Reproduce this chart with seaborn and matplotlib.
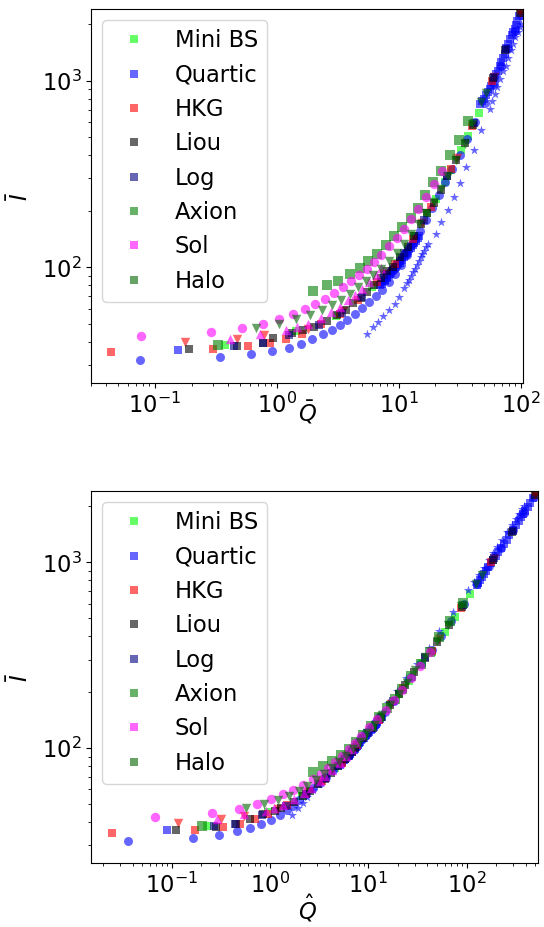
import matplotlib
matplotlib.use("Agg")
import matplotlib.pyplot as plt
from matplotlib.lines import Line2D
import seaborn as sns

plt.rcParams["font.size"] = 16.3

# ---- model names and colours (legend order) ----
models = ["Mini BS", "Quartic", "HKG", "Liou", "Log", "Axion", "Sol", "Halo"]
colors = ["lime", "blue", "red", "black", "navy", "green", "magenta", "darkgreen"]

# ---- Mini BS (squares) ----
minibs_qbar = [0.375, 1.45, 3.05, 6.0, 9.6, 13.5, 17.0, 20.3, 23.8, 27.0, 32.6, 36.9, 45.5]
minibs_qhat = [0.23, 0.95, 2.1, 4.6, 8.0, 13.8, 20.5, 26.0, 35.5, 44.0, 60.5, 76.0, 108]
minibs_i = [38.2, 45.5, 55.0, 78.0, 106, 148, 195, 231, 286, 331, 424, 505, 672]

# ---- Quartic (circles, stars, squares) ----
quartic_c_qbar = [0.075, 0.34, 0.62, 0.92, 1.26, 1.59, 1.96, 2.40, 2.81, 3.28, 3.77, 4.36,
                  5.04, 5.70, 6.48, 7.35, 8.30, 9.40, 10.5, 11.7, 13.2, 14.8, 16.6, 18.7,
                  21.2, 24.0, 27.4, 31.5, 36.5, 42.5, 51.0, 60.0, 69.0, 79.0, 90.0, 100.0]
quartic_c_qhat = [0.036, 0.164, 0.305, 0.46, 0.63, 0.81, 1.02, 1.26, 1.5, 1.72, 1.98, 2.3,
                  2.75, 3.25, 3.75, 4.4, 5.3, 6.3, 7.6, 9.4, 11.9, 14.9, 18.3, 22.0,
                  27.0, 34.5, 44.0, 55.0, 70.0, 94.0, 129, 170, 225, 300, 380, 480]
quartic_c_i = [31.8, 33.0, 34.2, 35.6, 37.1, 39.0, 41.2, 43.8, 46.3, 48.9, 52.5, 56.5,
               60.9, 65.2, 69.9, 75.9, 83.4, 92.0, 103, 117, 135, 156, 180, 208,
               243, 285, 336, 400, 485, 600, 760, 960, 1200, 1500, 1850, 2250]

quartic_st_qbar = [5.44, 6.16, 6.77, 7.43, 8.33, 9.29, 10.06, 11.0, 11.6, 12.1, 12.6, 13.1,
                   13.6, 14.1, 14.6, 15.1, 15.6, 16.2, 16.8, 17.4, 20.1, 22.1, 25.1, 28.2,
                   31.6, 35.9, 41.7, 47.6, 55.6, 58.6, 61.2, 64.1, 67.2, 71.3, 75.0, 78.6,
                   82.5, 86.5, 90.5, 94.9, 98.0, 101.0]
quartic_st_qhat = [1.67, 1.94, 2.15, 2.4, 2.75, 3.1, 3.6, 4.5, 5.0, 5.6, 6.1, 6.6,
                   7.1, 7.6, 8.2, 8.8, 9.5, 10.1, 10.8, 11.6, 13.0, 16.0, 19.5, 24.0,
                   31.0, 41.0, 53.0, 72.0, 104, 120, 134, 150, 168, 187, 205, 230,
                   260, 287, 315, 342, 367, 387]
quartic_st_i = [43.9, 47.9, 50.9, 54.6, 59.3, 63.9, 69.3, 77.9, 82.0, 86.0, 90.0, 94.0,
                98.0, 103, 108, 113, 118, 123, 128, 133, 151, 174, 202, 238,
                283, 344, 426, 541, 706, 781, 850, 930, 1026, 1120, 1205, 1320,
                1452, 1580, 1710, 1830, 1938, 2020]

quartic_sq_qbar = [0.155,
                   7.0, 7.35, 7.7, 8.05, 8.4, 8.75, 9.1, 9.45, 9.8, 10.25, 10.7, 11.15,
                   11.6, 12.15, 12.7, 13.25, 13.9, 14.6,
                   7.3, 7.65, 8.0, 8.35, 8.7, 9.05, 9.4, 9.75, 10.15, 10.6, 11.05, 11.5,
                   12.0, 12.55, 13.1, 13.75, 14.45,
                   46.0, 47.9, 49.9, 51.8, 53.7, 55.5, 57.4, 59.3, 61.2, 63.1, 65.0, 67.2,
                   69.4, 71.5, 73.6, 76.1, 78.6, 81.3, 84.0, 86.5, 89.0, 91.0, 93.0, 96.0]
quartic_sq_qhat = [0.09,
                   4.9, 5.25, 5.65, 6.0, 6.4, 6.75, 7.1, 7.45, 7.8, 8.25, 8.7, 9.25,
                   9.8, 10.6, 11.3, 12.0, 12.8, 13.7,
                   5.1, 5.45, 5.8, 6.2, 6.55, 6.9, 7.25, 7.6, 8.0, 8.5, 9.0, 9.5,
                   10.2, 10.9, 11.6, 12.4, 13.2,
                   127, 132, 137, 144, 151, 159, 166, 176, 187, 198, 209, 224,
                   240, 255, 272, 295, 318, 338, 360, 378, 395, 420, 445, 470]
quartic_sq_i = [36.2,
                80.0, 83.0, 86.0, 89.0, 92.0, 95.0, 98.0, 101, 104, 108, 112, 116,
                120, 125, 130, 135, 141, 147,
                81.5, 84.5, 87.5, 90.5, 93.5, 96.5, 99.5, 102.5, 106, 110, 114, 118,
                122.5, 127.5, 132.5, 138, 144,
                752, 776, 800, 833, 866, 903, 940, 987, 1034, 1082, 1130, 1193,
                1256, 1325, 1395, 1487, 1580, 1665, 1750, 1825, 1900, 1995, 2090, 2220]

# ---- HKG (squares, down triangles) ----
hkg_sq_qbar = [0.0436, 0.30, 0.58, 0.88, 1.2, 1.6, 2.3, 3.3, 4.6, 6.6, 9.3, 13.0, 18.5,
               27.0, 40.0, 58.0, 100.0]
hkg_sq_qhat = [0.0245, 0.173, 0.335, 0.5, 0.7, 0.95, 1.5, 2.3, 3.4, 5.35, 7.75, 12.9, 22.5,
               44.5, 88.0, 178, 510]
hkg_sq_i = [35.1, 36.3, 37.8, 39.3, 41.5, 44.0, 49.5, 56.5, 66.5, 83.5, 104, 142, 210,
            335, 570, 1000, 2380]

hkg_tri_qbar = [0.177, 0.47, 0.79, 1.8, 3.5, 7.6, 15.5, 30.0, 60.0, 98.6]
hkg_tri_qhat = [0.117, 0.32, 0.55, 1.2, 2.45, 6.4, 17.0, 52.0, 188, 496]
hkg_tri_i = [39.7, 41.5, 43.2, 47.0, 58.0, 92.0, 172, 385, 1040, 2291]

# ---- Liou (squares) ----
liou_qbar = [0.19, 0.47, 0.77, 0.94, 1.33, 1.63, 2.01, 2.57, 3.10, 3.68, 4.20, 4.88, 5.47,
             6.24, 7.11, 7.97, 8.93, 10.3, 11.8, 13.4, 15.1, 17.0, 19.4, 22.1, 24.7, 29.3,
             34.7, 40.4, 58.9, 73.9, 98.1]
liou_qhat = [0.11, 0.28, 0.45, 0.63, 0.85, 1.12, 1.3, 1.75, 2.17, 2.55, 3.1, 3.6, 4.15,
             4.9, 5.85, 6.8, 7.4, 8.9, 11.1, 13.6, 16.8, 20.5, 23.8, 29.5, 38.0, 50.5,
             65.5, 89.0, 186, 288, 492]
liou_i = [36.4, 37.8, 39.2, 41.7, 44.3, 46.0, 47.7, 51.4, 55.3, 58.9, 64.2, 68.2, 73.4,
          80.1, 87.3, 95.2, 100, 113, 129, 147, 170, 195, 220, 258, 307, 374,
          461, 576, 1028, 1452, 2290]

# ---- Log (squares) ----
log_qbar = [0.447, 0.77, 1.25, 2.2, 3.4, 5.0, 7.5, 11.0, 16.0, 25.0, 41.0, 60.0, 75.0]
log_qhat = [0.27, 0.44, 0.82, 1.45, 2.35, 3.7, 6.3, 10.0, 18.0, 38.0, 92.0, 190, 295]
log_i = [37.9, 39.3, 43.6, 49.0, 57.0, 69.0, 91.0, 120, 180, 310, 590, 1050, 1480]

# ---- Axion (squares) ----
axion_qbar = [0.33, 1.97, 2.57, 3.2, 4.0, 4.8, 5.6, 6.6, 7.8, 9.1, 10.7, 12.5, 14.4,
              16.3, 19.1, 22.4, 26.1, 31.0, 37.0]
axion_qhat = [0.205, 2.72, 3.49, 4.3, 5.3, 6.3, 7.5, 8.9, 10.7, 13.0, 15.5, 18.8, 22.2,
              27.5, 34.0, 42.0, 53.0, 68.0, 92.0]
axion_i = [38.2, 74.4, 80.0, 85.0, 91.7, 98.8, 107.7, 118, 131, 147, 164, 184, 208,
           245, 285, 330, 398, 483, 606]

# ---- Sol (circles, up triangles) ----
sol_c_qbar = [0.077, 0.29, 0.52, 0.77, 1.04, 1.36, 1.70, 2.05, 2.47, 2.95, 3.5, 4.09,
              4.7, 5.44, 6.23, 7.2, 8.33, 9.6, 11.0, 12.5, 14.4, 16.6, 19.4, 22.5]
sol_c_qhat = [0.068, 0.26, 0.485, 0.73, 1.02, 1.35, 1.73, 2.15, 2.72, 3.3, 3.9, 4.6,
              5.4, 6.3, 7.3, 8.5, 10.2, 12.3, 15.0, 18.2, 22.0, 27.0, 33.5, 42.5]
sol_c_i = [42.8, 45.0, 47.2, 49.9, 53.0, 56.5, 59.5, 63.4, 68.0, 72.9, 78.4, 84.0,
           90.6, 98.4, 106.8, 116, 129.5, 144, 161, 182, 206, 238, 278, 328]

sol_tri_qbar = [0.41, 0.73, 1.2, 1.47, 1.8, 2.3, 2.8, 3.3, 3.8, 4.4, 4.95, 5.65, 6.45, 7.2]
sol_tri_qhat = [0.287, 0.55, 0.9, 1.1, 1.35, 1.75, 2.2, 2.6, 3.2, 3.65, 4.3, 5.1, 6.0, 6.9]
sol_tri_i = [41.5, 44.1, 46.1, 47.8, 49.6, 53.5, 57.5, 61.3, 66.8, 70.9, 76.3, 83.3, 90.8, 99.0]

# ---- Halo (down triangles) ----
halo_qbar = [0.68, 1.04, 1.43, 1.86, 2.33, 2.81, 3.39, 3.96, 4.64, 5.37, 6.16, 7.2, 8.33,
             9.6, 11.0, 12.7, 14.6, 16.8, 19.3, 22.1, 25.3, 29.4, 34.8, 40.1, 47.6, 51.5]
halo_qhat = [0.57, 0.87, 1.2, 1.55, 1.95, 2.4, 2.95, 3.55, 4.3, 5.0, 5.9, 7.0, 8.2,
             9.7, 11.6, 13.8, 16.6, 20.3, 24.5, 30.0, 38.0, 50.0, 64.0, 88.0, 126, 145]
halo_i = [47.6, 49.9, 52.6, 55.3, 58.8, 62.6, 67.2, 72.3, 78.4, 84.0, 90.6, 98.4, 108,
          120, 134, 150, 170, 195, 225, 262, 310, 378, 459, 583, 767, 855]

# drawing order: (qbar, qhat, I, colour, marker, size)
series = [
    (minibs_qbar, minibs_qhat, minibs_i, "lime", "s", 40),
    (quartic_c_qbar, quartic_c_qhat, quartic_c_i, "blue", "o", 42),
    (quartic_st_qbar, quartic_st_qhat, quartic_st_i, "blue", "*", 48),
    (quartic_sq_qbar, quartic_sq_qhat, quartic_sq_i, "blue", "s", 40),
    (hkg_sq_qbar, hkg_sq_qhat, hkg_sq_i, "red", "s", 40),
    (hkg_tri_qbar, hkg_tri_qhat, hkg_tri_i, "red", "v", 46),
    (liou_qbar, liou_qhat, liou_i, "black", "s", 40),
    (log_qbar, log_qhat, log_i, "navy", "s", 40),
    (axion_qbar, axion_qhat, axion_i, "green", "s", 46),
    (sol_c_qbar, sol_c_qhat, sol_c_i, "magenta", "o", 46),
    (sol_tri_qbar, sol_tri_qhat, sol_tri_i, "magenta", "^", 46),
    (halo_qbar, halo_qhat, halo_i, "darkgreen", "v", 46),
]

fig = plt.figure(figsize=(5.44, 9.27), dpi=100)
ax_top = fig.add_axes([0.1673, 0.5868, 0.7947, 0.4035])
ax_bot = fig.add_axes([0.1673, 0.0687, 0.8211, 0.4016])

for qbar, qhat, ival, col, mk, sz in series:
    sns.scatterplot(x=qbar, y=ival, color=col, marker=mk, s=sz, alpha=0.6,
                    linewidth=0, ax=ax_top)
    sns.scatterplot(x=qhat, y=ival, color=col, marker=mk, s=sz, alpha=0.6,
                    linewidth=0, ax=ax_bot)

handles = [Line2D([], [], marker="s", linestyle="", color=c, alpha=0.6,
                  markersize=6, markeredgewidth=0) for c in colors]

for ax, xlab, xlim, pad, xc in [(ax_top, r"$\bar{Q}$", (0.030, 105), -14, 0.5),
                                (ax_bot, r"$\hat{Q}$", (0.0151, 529), -4, 0.4835)]:
    ax.set_xscale("log")
    ax.set_yscale("log")
    ax.set_xlim(*xlim)
    ax.set_ylim(24, 2420)
    ax.set_xlabel(xlab, labelpad=pad)
    ax.xaxis.label.set_x(xc)
    ax.set_ylabel(r"$\bar{I}$", labelpad=6)
    ax.legend(handles=handles, labels=models, loc="upper left")

fig.savefig("out.png", dpi=100)
